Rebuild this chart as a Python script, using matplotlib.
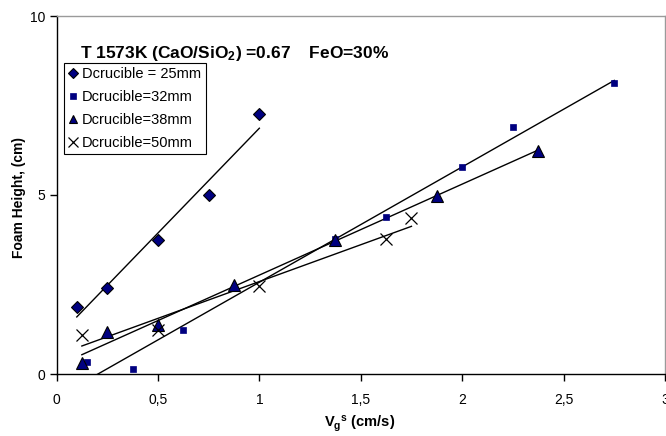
import numpy as np
import matplotlib
matplotlib.use("Agg")
import matplotlib.pyplot as plt
from matplotlib.ticker import FixedLocator

plt.rcParams["font.family"] = ["Liberation Sans", "DejaVu Sans"]
plt.rcParams["mathtext.fontset"] = "custom"
plt.rcParams["mathtext.rm"] = "Liberation Sans"
plt.rcParams["mathtext.bf"] = "Liberation Sans:bold"
plt.rcParams["mathtext.it"] = "Liberation Sans:italic"

# Superficial gas velocity (cm/s) and foam height (cm) per crucible diameter
vg_25 = [0.1, 0.25, 0.5, 0.75, 1.0]
h_25 = [1.87, 2.4, 3.75, 5.0, 7.25]

vg_32 = [0.15, 0.375, 0.625, 1.375, 1.625, 2.0, 2.25, 2.75]
h_32 = [0.33, 0.14, 1.23, 3.76, 4.39, 5.78, 6.89, 8.13]

vg_38 = [0.125, 0.25, 0.5, 0.875, 1.375, 1.875, 2.375]
h_38 = [0.31, 1.18, 1.36, 2.48, 3.74, 4.98, 6.24]

vg_50 = [0.125, 0.5, 1.0, 1.625, 1.75]
h_50 = [1.1, 1.23, 2.45, 3.76, 4.37]

labels = ["Dcrucible = 25mm", "Dcrucible=32mm", "Dcrucible=38mm", "Dcrucible=50mm"]
x_ticks = [0, 0.5, 1, 1.5, 2, 2.5, 3]
x_tick_labels = ["0", "0,5", "1", "1,5", "2", "2,5", "3"]
y_ticks = [0, 5, 10]

navy = "#000080"
W, H = 666, 436


def fx(px):
    return px / W


def fy(py):
    return 1 - py / H


fig = plt.figure(figsize=(W / 100, H / 100), dpi=100)
ax = fig.add_axes([fx(56.5), fy(374), (665 - 56.5) / W, (374 - 16) / H])

series = [
    (vg_25, h_25, dict(marker="D", ms=6.5, mfc=navy, mec="black", mew=0.8)),
    (vg_32, h_32, dict(marker="s", ms=5, mfc=navy, mec=navy, mew=0.5)),
    (vg_38, h_38, dict(marker="^", ms=8.5, mfc=navy, mec="black", mew=0.8)),
    (vg_50, h_50, dict(marker="x", ms=9, mfc="none", mec="black", mew=0.9)),
]

handles = []
for (x, y, style), lab in zip(series, labels):
    x = np.asarray(x)
    y = np.asarray(y)
    h, = ax.plot(x, y, ls="none", label=lab, zorder=3, **style)
    handles.append(h)
    # least-squares linear trend over the measured range
    k, b = np.polyfit(x, y, 1)
    xs = np.array([x.min(), x.max()])
    ax.plot(xs, k * xs + b, color="black", lw=1.0, zorder=2)

ax.set_xlim(0, 3)
ax.set_ylim(0, 10)
ax.xaxis.set_major_locator(FixedLocator(x_ticks))
ax.set_xticklabels(x_tick_labels)
ax.yaxis.set_major_locator(FixedLocator(y_ticks))
ax.tick_params(axis="both", direction="out", length=5, width=1, color="black",
               labelsize=10)
ax.tick_params(axis="x", pad=9)
ax.tick_params(axis="y", pad=3)

for side in ("left", "bottom"):
    ax.spines[side].set_color("black")
    ax.spines[side].set_linewidth(1.0)
for side in ("top", "right"):
    ax.spines[side].set_color("#9a9a9a")
    ax.spines[side].set_linewidth(1.0)

fig.text(fx(360), fy(424), r"V$_\mathbf{g}$$^\mathbf{s}$ (cm/s)", fontsize=10.5,
         fontweight="bold", ha="center", va="center")
fig.text(fx(19), fy(197), "Foam Height, (cm)", fontsize=10, fontweight="bold",
         rotation=90, ha="center", va="center")

fig.text(fx(80), fy(58), r"T 1573K (CaO/SiO$_\mathbf{2}$) =0.67    FeO=30%",
         fontsize=12.5, fontweight="bold", ha="left", va="baseline")

leg = ax.legend(handles=handles, loc="upper left", bbox_to_anchor=(fx(64), fy(63)),
                bbox_transform=fig.transFigure, fontsize=10.5, frameon=True, fancybox=False,
                framealpha=1, edgecolor="black", borderpad=0.3, handlelength=0.7,
                handletextpad=0.25, labelspacing=0.6, borderaxespad=0, markerscale=0.75)
leg.get_frame().set_linewidth(0.8)

fig.savefig("out.png", dpi=100)
